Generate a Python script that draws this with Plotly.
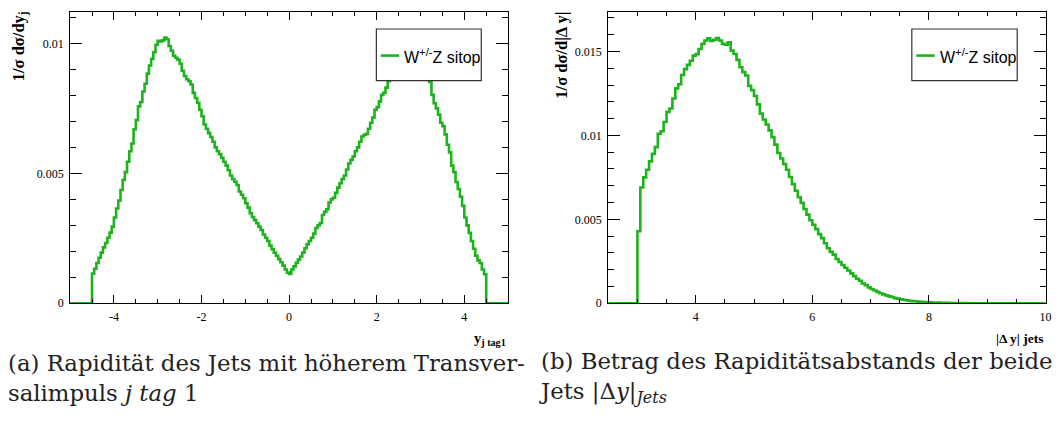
import numpy as np
import plotly.graph_objects as go

W, H = 1063, 430

# ---------------- data ----------------
# Left: 1/sigma dsigma/dy_j (y of leading tag jet); bins of width 0.05 from -5 to 5, values in units of 1e-3
left_bin_start = -5.0
left_bin_width = 0.05
left_values_e3 = [
    0, 0, 0, 0, 0, 0, 0, 0, 0, 0,
    1.14, 1.33, 1.55, 1.75, 1.95, 2.15, 2.32, 2.52, 2.72, 2.95,
    3.30, 3.65, 3.95, 4.36, 4.75, 5.05, 5.45, 5.85, 6.15, 6.70,
    7.05, 7.58, 7.75, 8.15, 8.45, 8.84, 9.15, 9.40, 9.66, 9.95,
    10.10, 10.08, 10.12, 10.23, 10.16, 9.90, 9.72, 9.53, 9.45, 9.38,
    9.22, 8.95, 8.75, 8.62, 8.55, 8.42, 8.10, 7.90, 7.72, 7.45,
    7.20, 6.88, 6.72, 6.55, 6.40, 6.22, 6.00, 5.85, 5.74, 5.60,
    5.45, 5.30, 5.12, 4.92, 4.78, 4.68, 4.55, 4.30, 4.18, 4.04,
    3.85, 3.68, 3.47, 3.32, 3.20, 3.08, 2.95, 2.82, 2.65, 2.52,
    2.40, 2.22, 2.08, 1.95, 1.83, 1.70, 1.58, 1.45, 1.30, 1.18,
    1.13, 1.30, 1.42, 1.56, 1.68, 1.80, 1.95, 2.12, 2.27, 2.40,
    2.52, 2.68, 2.90, 3.00, 3.09, 3.40, 3.52, 3.62, 3.88, 4.00,
    4.06, 4.25, 4.45, 4.62, 4.78, 4.92, 5.15, 5.38, 5.52, 5.65,
    5.85, 6.00, 6.22, 6.42, 6.48, 6.52, 6.72, 6.95, 7.15, 7.45,
    7.55, 7.77, 8.02, 8.10, 8.30, 8.55, 8.85, 9.05, 9.30, 9.45,
    9.55, 9.70, 9.85, 9.98, 10.05, 10.12, 10.08, 10.02, 9.92, 9.75,
    9.55, 9.38, 9.15, 8.90, 8.52, 8.02, 7.70, 7.50, 7.26, 6.95,
    6.82, 6.50, 6.10, 5.81, 5.30, 5.05, 4.67, 4.40, 4.10, 3.75,
    3.30, 3.00, 2.71, 2.40, 2.10, 1.83, 1.65, 1.55, 1.30, 1.12,
    0, 0, 0, 0, 0, 0, 0, 0, 0, 0,
]

# Right: 1/sigma dsigma/d|Delta y|; bins of width 0.05 from 2.5 to 10, values in units of 1e-3
right_bin_start = 2.5
right_bin_width = 0.05
right_values_e3 = [
    0, 0, 0, 0, 0, 0, 0, 0, 0, 0,
    4.29, 6.90, 7.50, 7.95, 8.45, 8.90, 9.30, 10.10, 10.25, 10.80,
    11.40, 11.60, 12.20, 12.80, 13.05, 13.60, 13.95, 14.20, 14.45, 14.75,
    14.84, 15.15, 15.45, 15.65, 15.78, 15.62, 15.70, 15.80, 15.65, 15.45,
    15.40, 15.55, 15.05, 14.85, 14.50, 14.06, 13.77, 13.57, 12.95, 12.70,
    12.35, 11.85, 11.30, 10.95, 10.65, 10.30, 9.90, 9.45, 8.95, 8.62,
    8.30, 7.95, 7.52, 7.10, 6.70, 6.32, 5.98, 5.62, 5.28, 4.95,
    4.68, 4.42, 4.12, 3.88, 3.58, 3.28, 3.06, 2.90, 2.64, 2.46,
    2.28, 2.12, 1.95, 1.78, 1.62, 1.46, 1.34, 1.18, 1.08, 0.95,
    0.85, 0.76, 0.68, 0.60, 0.53, 0.47, 0.41, 0.37, 0.31, 0.28,
    0.24, 0.21, 0.18, 0.15, 0.13, 0.12, 0.10, 0.09, 0.08, 0.07,
    0.06, 0.05, 0.045, 0.04, 0.035, 0.03, 0.025, 0.02, 0.018, 0.015,
    0.012, 0.010, 0.008, 0.006, 0.005, 0.004, 0.003, 0.002, 0.002, 0.001,
    0, 0, 0, 0, 0, 0, 0, 0, 0, 0,
    0, 0, 0, 0, 0, 0, 0, 0, 0, 0,
]

legend_label = "W<sup>+/-</sup>Z sitop"
left_xticks = [-4, -2, 0, 2, 4]
left_xticklabels = ["-4", "-2", "0", "2", "4"]
right_xticks = [4, 6, 8, 10]
right_xticklabels = ["4", "6", "8", "10"]
left_yticks = [0, 0.005, 0.01]
left_yticklabels = ["0", "0.005", "0.01"]
right_yticks = [0, 0.005, 0.01, 0.015]
right_yticklabels = ["0", "0.005", "0.01", "0.015"]
caption_a = "(a) Rapidität des Jets mit höherem Transver-<br>salimpuls <i>j tag</i> 1"
caption_b = "(b) Betrag des Rapiditätsabstands der beide<br>Jets |Δ<i>y</i>|<sub><i>Jets</i></sub>"

GREEN = "#1db31d"
SERIF = "Liberation Serif"
SANS = "Liberation Sans"


def step_xy(start, width, vals_e3):
    v = np.asarray(vals_e3, dtype=float) * 1e-3
    edges = np.round(start + width * np.arange(len(v) + 1), 6)
    y = np.append(v, v[-1])
    return edges, y


def px(xp):
    return xp / W


def py(yp):
    return 1 - yp / H


fig = go.Figure()
lx, ly = step_xy(left_bin_start, left_bin_width, left_values_e3)
rx, ry = step_xy(right_bin_start, right_bin_width, right_values_e3)
fig.add_trace(go.Scatter(x=lx, y=ly, mode="lines", line=dict(color=GREEN, width=2.6, shape="hv"),
                         xaxis="x", yaxis="y", name="W+/-Z sitop", showlegend=False, hoverinfo="skip"))
fig.add_trace(go.Scatter(x=rx, y=ry, mode="lines", line=dict(color=GREEN, width=2.6, shape="hv"),
                         xaxis="x2", yaxis="y2", name="W+/-Z sitop", showlegend=False, hoverinfo="skip"))

ydom = [py(308.3), py(11.7)]
tickfont = dict(family=SERIF, size=12, color="black")


def xax(domain, rng, tv, tt, anchor):
    return dict(domain=domain, range=rng, anchor=anchor, tickmode="array", tickvals=tv, ticktext=tt,
                ticks="inside", ticklen=8.5, tickwidth=1, tickcolor="black", mirror="allticks",
                showline=True, linecolor="black", linewidth=1, showgrid=False, zeroline=False,
                tickfont=tickfont, ticklabelstandoff=2,
                minor=dict(tickmode="linear", tick0=0, dtick=0.5, ticks="inside", ticklen=4.5,
                           tickcolor="black", tickwidth=1, showgrid=False))


def yax(rng, tv, tt, anchor):
    return dict(domain=ydom, range=rng, anchor=anchor, tickmode="array", tickvals=tv, ticktext=tt,
                ticks="inside", ticklen=12, tickwidth=1, tickcolor="black", mirror="allticks",
                showline=True, linecolor="black", linewidth=1, showgrid=False, zeroline=False,
                tickfont=tickfont, ticklabelstandoff=3,
                minor=dict(tickmode="linear", tick0=0, dtick=0.001, ticks="inside", ticklen=6,
                           tickcolor="black", tickwidth=1, showgrid=False))


shapes = []
annotations = []

# legends (ROOT style boxes)
for (bx0, bx1) in [(378.5, 484.0), (917.0, 1023.0)]:
    by0, by1 = 29.5, 82.0
    shapes.append(dict(type="rect", xref="paper", yref="paper", x0=px(bx0), x1=px(bx1), y0=py(by1), y1=py(by0),
                       line=dict(color="#333333", width=1.2), fillcolor="white", layer="above"))
    shapes.append(dict(type="line", xref="paper", yref="paper", x0=px(bx0 + 4.5), x1=px(bx0 + 23), y0=py(56.5),
                       y1=py(56.5), line=dict(color=GREEN, width=2.6), layer="above"))
    annotations.append(dict(xref="paper", yref="paper", x=px(bx0 + 26), y=py(57), xanchor="left", yanchor="middle",
                            text=legend_label, showarrow=False, font=dict(family=SANS, size=16, color="black")))

# axis titles
annotations += [
    dict(xref="paper", yref="paper", x=px(19), y=py(9.5), xanchor="center", yanchor="top", textangle=-90,
         text="<b>1/σ dσ/dy<sub>j</sub></b>", showarrow=False, font=dict(family=SERIF, size=16.5, color="black")),
    dict(xref="paper", yref="paper", x=px(565), y=py(9.5), xanchor="center", yanchor="top", textangle=-90,
         text="<b>1/σ dσ/d|Δ y|</b>", showarrow=False, font=dict(family=SERIF, size=16.5, color="black")),
    dict(xref="paper", yref="paper", x=px(511), y=py(333), xanchor="right", yanchor="top",
         text="<b>y<sub>j tag1</sub></b>", showarrow=False, font=dict(family=SERIF, size=14.5, color="black")),
    dict(xref="paper", yref="paper", x=px(1051), y=py(334), xanchor="right", yanchor="top",
         text="<b>|Δ y| jets</b>", showarrow=False, font=dict(family=SERIF, size=13.5, color="black")),
]

# captions (the reference crops the second caption at the right image edge)
capfont = dict(family="DejaVu Serif", size=22.8, color="#222222")
annotations += [
    dict(xref="paper", yref="paper", x=px(7), y=py(384), xanchor="left", yanchor="middle", align="left",
         text=caption_a, showarrow=False, font=capfont, borderpad=0),
    dict(xref="paper", yref="paper", x=px(541), y=py(384), xanchor="left", yanchor="middle", align="left",
         text=caption_b, showarrow=False, font=capfont, borderpad=0),
]

fig.update_layout(
    width=W, height=H, autosize=False,
    margin=dict(l=0, r=0, t=0, b=0),
    paper_bgcolor="white", plot_bgcolor="white",
    showlegend=False,
    xaxis=xax([px(70.5), px(511)], [-5, 5], left_xticks, left_xticklabels, "y"),
    yaxis=yax([0, 0.01123], left_yticks, left_yticklabels, "x"),
    xaxis2=xax([px(611.7), px(1051.5)], [2.5, 10], right_xticks, right_xticklabels, "y2"),
    yaxis2=yax([0, 0.01738], right_yticks, right_yticklabels, "x2"),
    shapes=shapes,
    annotations=annotations,
)

fig.write_html("out.html")
